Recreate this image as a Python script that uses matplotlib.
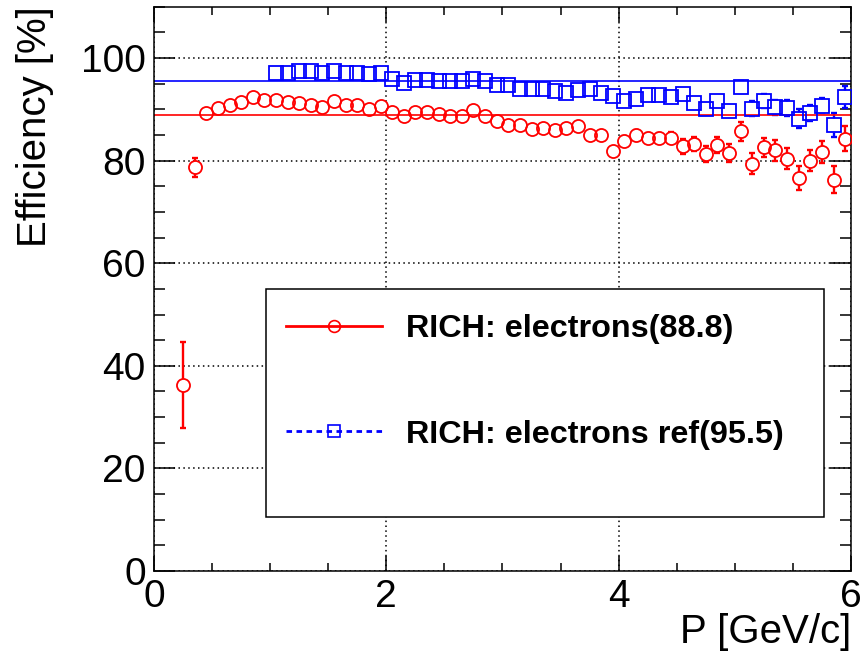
import matplotlib
matplotlib.use("Agg")
import matplotlib.pyplot as plt
from matplotlib.lines import Line2D
from matplotlib.patches import Rectangle
from matplotlib.ticker import MultipleLocator

plt.rcParams["font.family"] = ["Liberation Sans", "DejaVu Sans"]

# bin centres in P [GeV/c]
p_el = [0.25, 0.35, 0.45, 0.55, 0.65, 0.75, 0.85, 0.95,
        1.05, 1.15, 1.25, 1.35, 1.45, 1.55, 1.65, 1.75, 1.85, 1.95,
        2.05, 2.15, 2.25, 2.35, 2.45, 2.55, 2.65, 2.75, 2.85, 2.95,
        3.05, 3.15, 3.25, 3.35, 3.45, 3.55, 3.65, 3.75, 3.85, 3.95,
        4.05, 4.15, 4.25, 4.35, 4.45, 4.55, 4.65, 4.75, 4.85, 4.95,
        5.05, 5.15, 5.25, 5.35, 5.45, 5.55, 5.65, 5.75, 5.85, 5.95]
eff_el = [36.2, 78.7, 89.3, 90.2, 90.9, 91.5, 92.4, 91.9,
          91.8, 91.5, 91.2, 90.9, 90.5, 91.6, 90.9, 90.9, 90.0, 90.6,
          89.4, 88.7, 89.5, 89.5, 89.0, 88.7, 88.7, 89.8, 88.7, 87.7,
          87.0, 87.0, 86.2, 86.4, 85.9, 86.4, 86.7, 84.9, 84.9, 81.9,
          83.8, 85.0, 84.4, 84.4, 84.5, 82.8, 83.2, 81.3, 83.0, 81.5,
          85.7, 79.4, 82.6, 82.0, 80.4, 76.6, 80.0, 81.7, 76.3, 84.3]
err_el = [8.4, 1.9, 0.8, 0.7, 0.6, 0.6, 0.6, 0.6,
          0.6, 0.6, 0.6, 0.6, 0.6, 0.6, 0.6, 0.6, 0.6, 0.6,
          0.6, 0.6, 0.6, 0.6, 0.6, 0.6, 0.6, 0.6, 0.6, 0.6,
          0.8, 0.8, 0.8, 0.8, 0.8, 0.8, 0.8, 0.8, 0.8, 0.8,
          1.0, 1.0, 1.0, 1.0, 1.0, 1.5, 1.4, 1.6, 1.6, 1.7,
          1.8, 2.1, 1.9, 2.0, 2.1, 2.3, 2.0, 2.2, 2.6, 2.4]

p_ref = [1.05, 1.15, 1.25, 1.35, 1.45, 1.55, 1.65, 1.75, 1.85, 1.95,
         2.05, 2.15, 2.25, 2.35, 2.45, 2.55, 2.65, 2.75, 2.85, 2.95,
         3.05, 3.15, 3.25, 3.35, 3.45, 3.55, 3.65, 3.75, 3.85, 3.95,
         4.05, 4.15, 4.25, 4.35, 4.45, 4.55, 4.65, 4.75, 4.85, 4.95,
         5.05, 5.15, 5.25, 5.35, 5.45, 5.55, 5.65, 5.75, 5.85, 5.95]
eff_ref = [97.0, 97.0, 97.4, 97.4, 97.0, 97.4, 97.0, 97.0, 96.9, 97.0,
           95.9, 95.2, 95.8, 95.8, 95.5, 95.5, 95.5, 95.9, 95.5, 94.8,
           94.8, 94.0, 94.0, 94.0, 93.5, 93.2, 93.7, 94.0, 93.2, 92.6,
           91.7, 92.1, 92.7, 92.7, 92.4, 93.0, 91.2, 90.1, 91.7, 89.6,
           94.3, 90.1, 91.6, 90.4, 90.3, 88.2, 89.3, 90.7, 86.9, 92.4]
err_ref = [0.3, 0.3, 0.3, 0.3, 0.3, 0.3, 0.3, 0.3, 0.3, 0.3,
           0.3, 0.3, 0.3, 0.3, 0.3, 0.3, 0.3, 0.3, 0.3, 0.3,
           0.4, 0.4, 0.4, 0.4, 0.4, 0.4, 0.4, 0.4, 0.4, 0.4,
           0.6, 0.6, 0.6, 0.6, 0.6, 0.9, 0.9, 0.9, 0.9, 0.9,
           1.2, 1.5, 1.4, 1.5, 1.6, 1.8, 1.6, 1.5, 2.3, 2.1]

mean_el = 88.8
mean_ref = 95.5

RED = "#ff0000"
BLUE = "#0000ff"
MS_O = 9.4
MS_S = 9.8

fig = plt.figure(figsize=(8.62, 6.67), dpi=100)
ax = fig.add_axes([154 / 862, 96 / 667, 697 / 862, 564.3 / 667])

ax.grid(True, which="major", color="black", linestyle=(0, (1, 2.2)), linewidth=1.1)
ax.set_axisbelow(True)

# error bars, then a white fill to hide the part inside each marker
ax.errorbar(p_el, eff_el, yerr=err_el, fmt="none", ecolor=RED, elinewidth=1.7,
            capsize=2.3, capthick=1.7, zorder=2.0)
ax.plot(p_el, eff_el, "o", ms=MS_O, mfc="white", mec="none", zorder=2.1)
ax.errorbar(p_ref, eff_ref, yerr=err_ref, fmt="none", ecolor=BLUE, elinewidth=1.7,
            capsize=2.3, capthick=1.7, zorder=2.2)
ax.plot(p_ref, eff_ref, "s", ms=MS_S, mfc="white", mec="none", zorder=2.3)

ax.axhline(mean_el, color=RED, lw=1.2, zorder=2.5)
ax.axhline(mean_ref, color=BLUE, lw=1.2, zorder=2.5)

ax.plot(p_el, eff_el, "o", ms=MS_O, mfc="none", mec=RED, mew=1.3, zorder=3)
ax.plot(p_ref, eff_ref, "s", ms=MS_S, mfc="none", mec=BLUE, mew=1.3, zorder=3.1)

ax.set_xlim(0, 6)
ax.set_ylim(0, 110)
ax.xaxis.set_major_locator(MultipleLocator(2))
ax.xaxis.set_minor_locator(MultipleLocator(0.5))
ax.yaxis.set_major_locator(MultipleLocator(20))
ax.yaxis.set_minor_locator(MultipleLocator(5))
ax.tick_params(axis="both", which="both", direction="in", top=True, right=True,
               width=1.1, labelsize=28)
ax.tick_params(axis="x", which="major", length=11, pad=6)
ax.tick_params(axis="x", which="minor", length=6)
ax.tick_params(axis="y", which="major", length=15, pad=6)
ax.tick_params(axis="y", which="minor", length=8)
for s in ax.spines.values():
    s.set_linewidth(1.1)

ax.set_xlabel("P [GeV/c]", fontsize=29, loc="right")
ax.xaxis.set_label_coords(1.0, -0.075)
ax.set_ylabel("Efficiency [%]", fontsize=29, loc="top")
ax.yaxis.set_label_coords(-0.143, 1.0)

# legend frame
ax.add_patch(Rectangle((0.1607, 0.0957), 0.8006, 0.404, transform=ax.transAxes,
                       facecolor="white", edgecolor="black", lw=1.1, zorder=5))
handles = [
    Line2D([], [], color=RED, lw=2.0, marker="o", ms=8.5, mfc="none", mec=RED, mew=1.2),
    Line2D([], [], color=BLUE, lw=2.0, linestyle=(0, (2, 1.6)), marker="s", ms=9,
           mfc="none", mec=BLUE, mew=1.2),
]
labels = [f"RICH: electrons({mean_el})", f"RICH: electrons ref({mean_ref})"]
leg = ax.legend(handles, labels, loc="upper left", bbox_to_anchor=(0.19, 0.455),
                frameon=False, borderpad=0, borderaxespad=0, labelspacing=2.33,
                handlelength=2.94, handletextpad=0.74,
                prop={"weight": "bold", "size": 23.3})
leg.set_zorder(6)

fig.savefig("out.png", dpi=100)
